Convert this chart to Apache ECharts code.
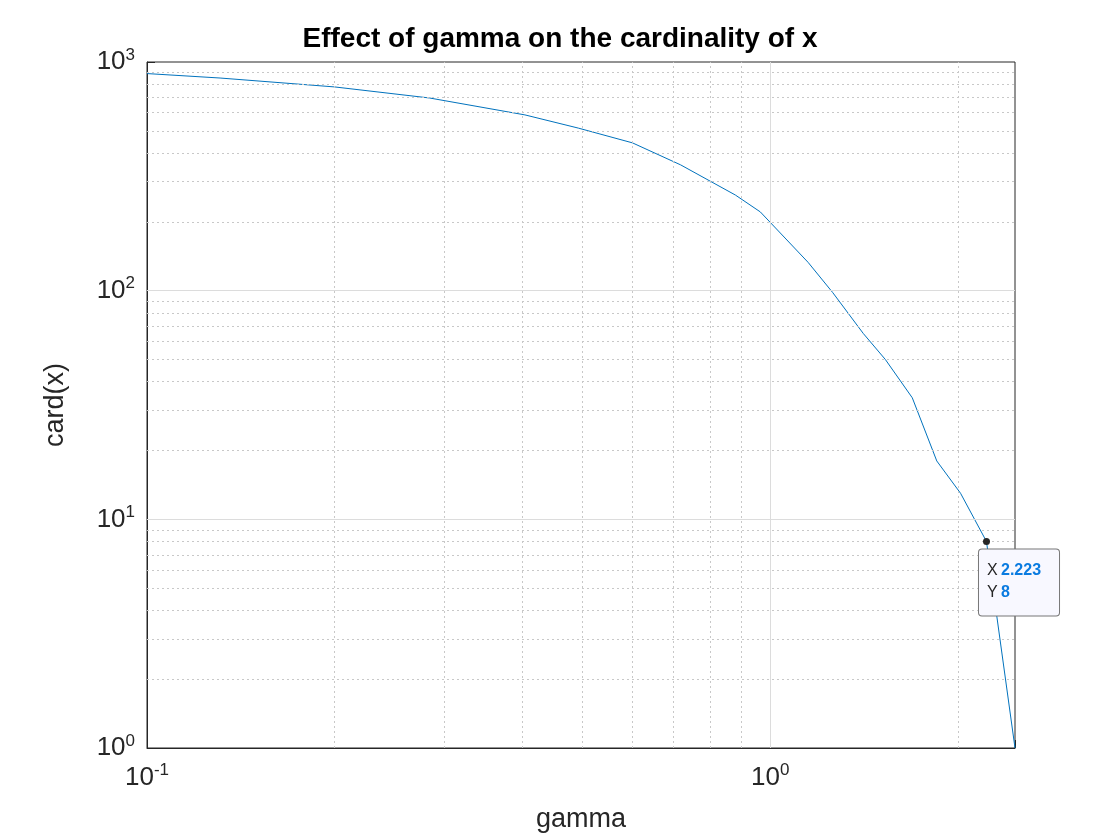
<!DOCTYPE html>
<html><head><meta charset="utf-8">
<script src="https://cdn.jsdelivr.net/npm/echarts@6/dist/echarts.min.js"></script>
<style>html,body{margin:0;background:#fff}#c{width:1120px;height:840px}</style>
</head><body><div id="c"></div>
<script>
const gammaVals = [0.1, 0.131, 0.200, 0.284, 0.404, 0.492, 0.601, 0.718, 0.879, 0.964, 1.15, 1.26, 1.41, 1.53, 1.69, 1.85, 2.02, 2.223, 2.47];
const cardVals  = [890, 851, 778, 696, 587, 514, 443, 355, 262, 221, 133, 98, 65, 50, 34, 18, 13, 8, 1];
const xMinor = [0.2,0.3,0.4,0.5,0.6,0.7,0.8,0.9,2];
const yMinor = [2,3,4,5,6,7,8,9,20,30,40,50,60,70,80,90,200,300,400,500,600,700,800,900];
const xMajor = [1];
const yMajor = [10,100];
const FONT = 'Helvetica, Arial, "Liberation Sans", sans-serif';
function pow(v){const l=Math.log10(v);const e=Math.round(l);if(Math.abs(l-e)>1e-6)return '';return '10{s|'+e+'}';}
const chart = echarts.init(document.getElementById('c'));
const minorStyle = {color:'#c8c8c8',type:[2,3],width:1};
const rich = {s:{fontSize:17,verticalAlign:'top',padding:[0,0,14,0],fontFamily:FONT,color:'#262626'}};
chart.setOption({
  animation:false,
  title:{text:'Effect of gamma on the cardinality of x',left:'center',top:20,textStyle:{fontFamily:FONT,fontSize:28,fontWeight:'bold',color:'#000'}},
  grid:{left:147,right:105,top:62,bottom:92,show:true,borderColor:'#262626',borderWidth:1},
  xAxis:{type:'log',logBase:10,min:0.1,max:2.47,name:'gamma',nameLocation:'middle',nameGap:58,
    nameTextStyle:{fontFamily:FONT,fontSize:27,color:'#262626'},
    axisLine:{lineStyle:{color:'#262626'}},axisTick:{inside:true,length:8,lineStyle:{color:'#262626'}},
    splitLine:{show:false},
    axisLabel:{formatter:pow,fontFamily:FONT,fontSize:26,color:'#262626',margin:14,rich:rich}},
  yAxis:{type:'log',logBase:10,min:1,max:1000,name:'card(x)',nameLocation:'middle',nameGap:78,
    nameTextStyle:{fontFamily:FONT,fontSize:27,color:'#262626'},
    axisLine:{lineStyle:{color:'#262626'}},axisTick:{inside:true,length:8,lineStyle:{color:'#262626'}},
    splitLine:{show:false},
    axisLabel:{formatter:pow,fontFamily:FONT,fontSize:26,color:'#262626',margin:12,rich:rich}},
  series:[
    {type:'line',data:[],silent:true,markLine:{silent:true,symbol:'none',label:{show:false},lineStyle:minorStyle,
      data:[...xMinor.map(v=>({xAxis:v})),...yMinor.map(v=>({yAxis:v}))]}},
    {type:'line',data:[],silent:true,markLine:{silent:true,symbol:'none',label:{show:false},lineStyle:{color:'#dcdcdc',type:'solid',width:1},
      data:[...xMajor.map(v=>({xAxis:v})),...yMajor.map(v=>({yAxis:v}))]}},
    {type:'line',data:gammaVals.map((g,i)=>[g,cardVals[i]]),showSymbol:false,lineStyle:{color:'#0072BD',width:1},
      markPoint:{symbol:'circle',symbolSize:7,itemStyle:{color:'#262626'},
        data:[{coord:[gammaVals[17],cardVals[17]],
          label:{show:true,position:'left',offset:[1,41],align:'left',
            formatter:'{k|X} {v|'+gammaVals[17]+'}\n{k|Y} {v|'+cardVals[17]+'}',
            backgroundColor:'#f8f8ff',borderColor:'#777',borderWidth:1,borderRadius:3,padding:[10,18,12,8],
            rich:{k:{fontFamily:FONT,fontSize:16,color:'#262626',lineHeight:22,align:'left'},v:{fontFamily:FONT,fontSize:16,fontWeight:'bold',color:'#0a7be0',lineHeight:22,align:'left'}}}}]}}
  ]
});
</script></body></html>
